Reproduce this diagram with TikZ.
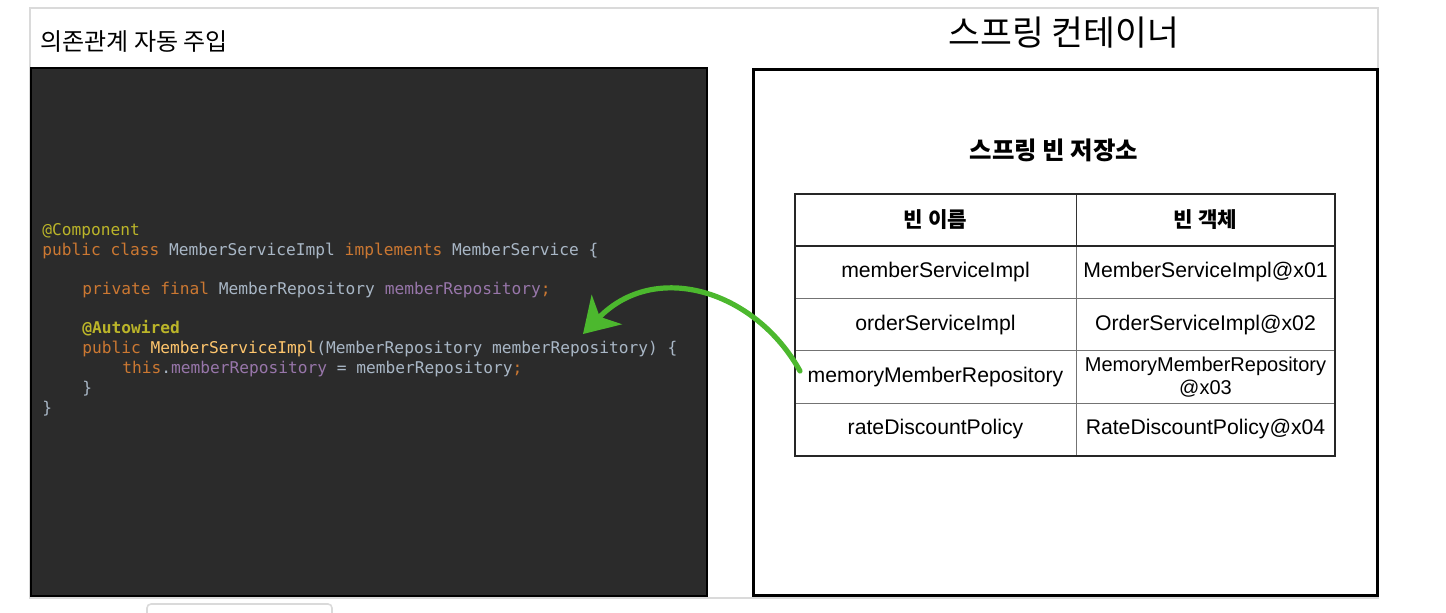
\documentclass[tikz,border=0pt]{standalone}
\usepackage{fontspec}
\usepackage{xcolor}
\usepackage{tikz}
\usetikzlibrary{arrows.meta,positioning,calc}
\setmainfont{Liberation Sans}
\setmonofont{DejaVu Sans Mono}
\newfontfamily\kr{Noto Sans CJK KR}
\definecolor{codebg}{HTML}{2B2B2B}
\definecolor{codeplain}{HTML}{A9B7C6}
\definecolor{codekw}{HTML}{CC7832}
\definecolor{codeannot}{HTML}{BBB529}
\definecolor{codefield}{HTML}{9876AA}
\definecolor{codemethod}{HTML}{FFC66D}
\definecolor{framegray}{HTML}{DADADA}
\definecolor{inkgreen}{HTML}{4CB82E}
\newcommand{\kw}[1]{\textcolor{codekw}{#1}}
\newcommand{\annot}[1]{\textcolor{codeannot}{#1}}
\newcommand{\fld}[1]{\textcolor{codefield}{#1}}
\newcommand{\mth}[1]{\textcolor{codemethod}{#1}}

\begin{document}
\begin{tikzpicture}[x=0.5pt, y=-0.5pt,
      codeline/.style={anchor=base west, inner sep=0pt, text=codeplain,
                  font=\ttfamily\fontsize{8.1}{10}\selectfont},
      headcell/.style={draw=black!80, line width=0.5pt, outer sep=0pt, inner sep=0pt,
                  minimum height=26pt, font=\kr\bfseries\fontsize{10.6}{12}\selectfont},
      cell/.style={draw=black!55, line width=0.5pt, outer sep=0pt, inner sep=0pt,
                  minimum height=26.2pt, align=center,
                  font=\fontsize{10.6}{11.6}\selectfont},
      greenarrow/.style={-{Stealth[length=17pt, width=21pt, inset=5pt]}, line width=2.6pt,
                  draw=inkgreen, line cap=round}
    ]
      \useasboundingbox (0,0) rectangle (1446,612);

      % --- outer frame and panels ---
      \draw[framegray, line width=1pt, fill=white] (30,8) rectangle (1378,598);
      \draw[framegray, line width=0.8pt, rounded corners=2pt] (147,604) rectangle (332,630);
      \draw[black, line width=1pt, fill=codebg] (31,68) rectangle (707,596);
      \draw[black, line width=1.5pt] (753,69) rectangle (1377,595);

      \node[anchor=west, inner sep=0pt, font=\kr\fontsize{12}{14}\selectfont] (title) at (40,42) {의존관계 자동 주입};
      \node[font=\kr\fontsize{17.3}{20}\selectfont] (container) at (1064,33) {스프링 컨테이너};
      \node[font=\kr\bfseries\fontsize{12.2}{14}\selectfont] (store) at (1054,150) {스프링 빈 저장소};

      % --- code lines ---
      \node[codeline] (l1) at (42,235) {\annot{@Component}};
      \node[codeline] (l2) at (42,255) {\kw{public class} MemberServiceImpl \kw{implements} MemberService \{};
      \node[codeline] (l3) at (82,294) {\kw{private final} MemberRepository \fld{memberRepository}\kw{;}};
      \node[codeline] (l4) at (82,333) {\annot{\bfseries @Autowired}};
      \node[codeline] (ctor) at (82,353) {\kw{public} \mth{MemberServiceImpl}(MemberRepository memberRepository) \{};
      \node[codeline] (l6) at (122,373) {\kw{this}.\fld{memberRepository} = memberRepository\kw{;}};
      \node[codeline] (l7) at (82,393) {\}};
      \node[codeline] (l8) at (42,413) {\}};

      % --- bean table ---
      \node[headcell, minimum width=140.5pt] (hname) at (935.5,220) {빈 이름};
      \node[headcell, minimum width=129.5pt, right=0pt of hname] (hobj) {빈 객체};

      \node[cell, minimum width=140.5pt, below=0pt of hname] (n1) {memberServiceImpl};
      \node[cell, minimum width=129.5pt, right=0pt of n1]    (o1) {MemberServiceImpl@x01};
      \node[cell, minimum width=140.5pt, below=0pt of n1]    (n2) {orderServiceImpl};
      \node[cell, minimum width=129.5pt, right=0pt of n2]    (o2) {OrderServiceImpl@x02};
      \node[cell, minimum width=140.5pt, below=0pt of n2]    (repo) {memoryMemberRepository};
      \node[cell, minimum width=129.5pt, right=0pt of repo, font=\fontsize{10}{11.6}\selectfont] (o3) {MemoryMemberRepository\\@x03};
      \node[cell, minimum width=140.5pt, below=0pt of repo]  (n4) {rateDiscountPolicy};
      \node[cell, minimum width=129.5pt, right=0pt of n4]    (o4) {RateDiscountPolicy@x04};

      \draw[black!85, line width=1pt] (hname.north west) rectangle (o4.south east);
      \draw[black!85, line width=1pt] (hname.south west) -- (hobj.south east);

      % --- injection arrow, table to constructor ---
      \coordinate (inject) at (583,334);
      \draw[greenarrow] ($(repo.west)+(5,-6)$) .. controls (755,290) and (655,260) .. (inject);
    \end{tikzpicture}
\end{document}
